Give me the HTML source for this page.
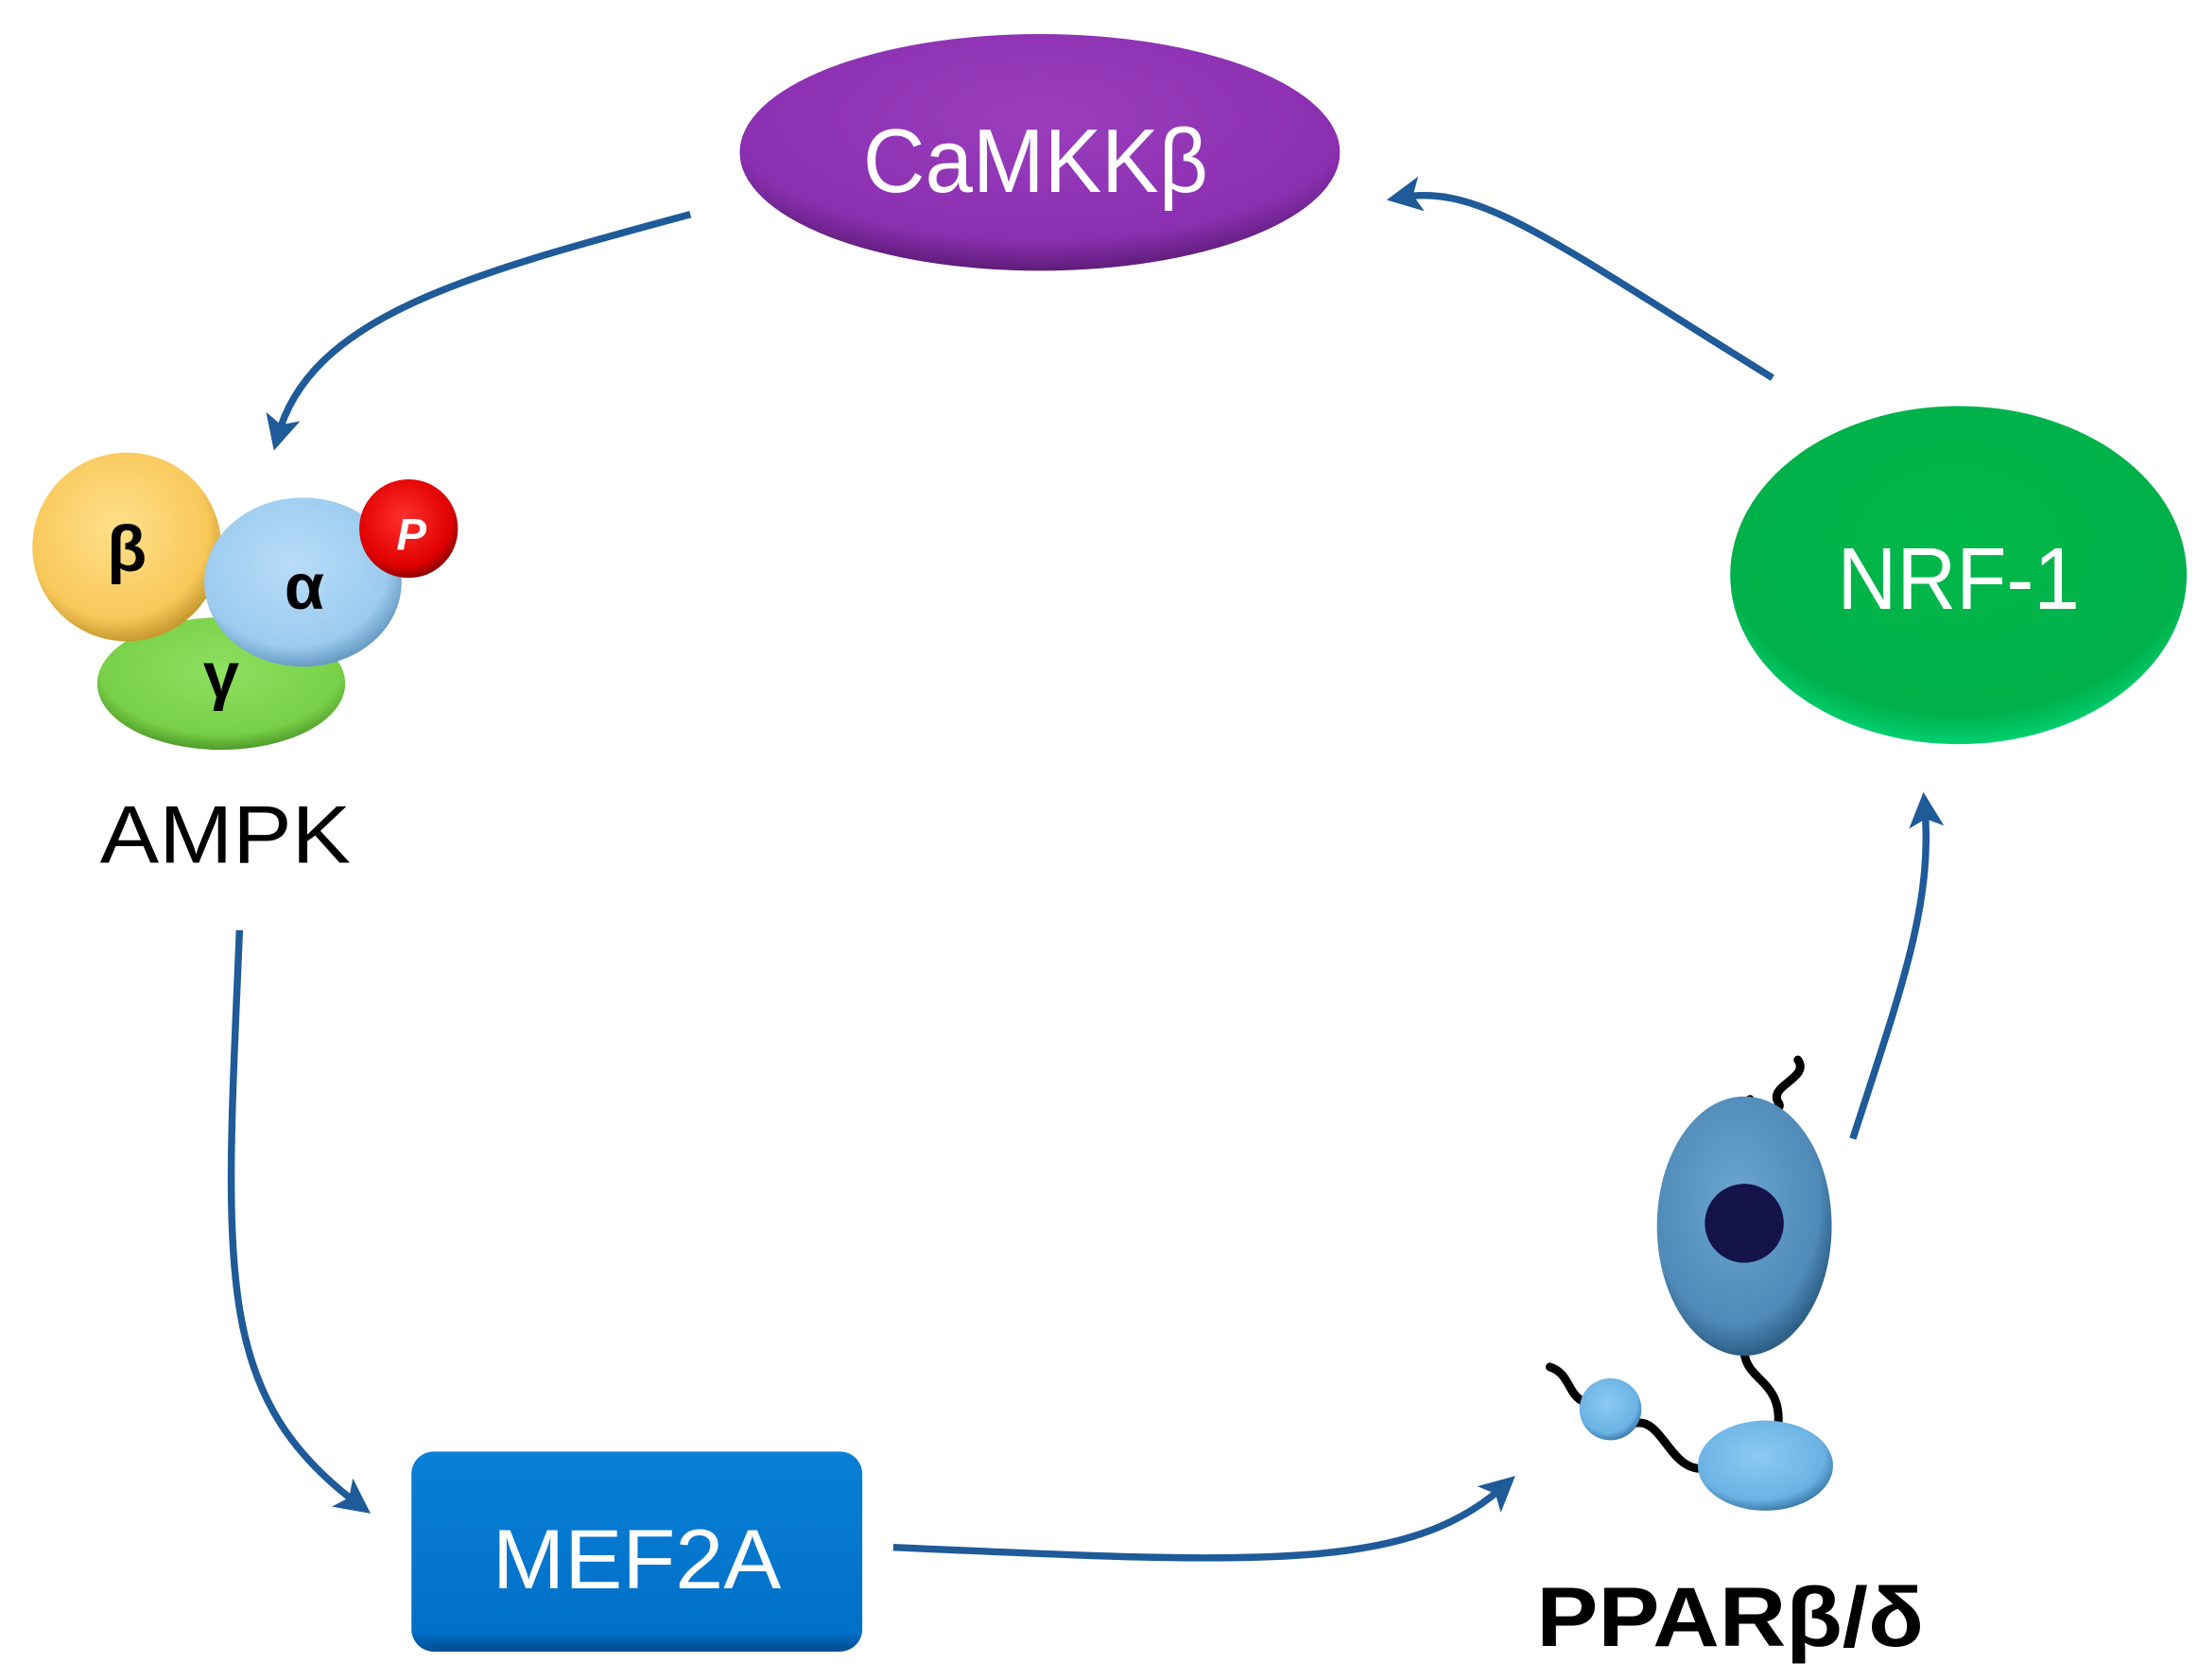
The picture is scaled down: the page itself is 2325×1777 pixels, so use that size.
<!DOCTYPE html>
<html><head><style>html,body{margin:0;padding:0;background:#fff}svg{display:block}</style></head>
<body>
<svg width="2325" height="1777" viewBox="0 0 1560 1192" xmlns="http://www.w3.org/2000/svg" font-family="Liberation Sans, sans-serif">
<defs>
<radialGradient id="pur" cx="50%" cy="35%" r="65%"><stop offset="0" stop-color="#9a3ebd"/><stop offset="0.8" stop-color="#8a2fb0"/><stop offset="1" stop-color="#5e1d7a"/></radialGradient>
<radialGradient id="grn" cx="50%" cy="40%" r="60%"><stop offset="0" stop-color="#00b84a"/><stop offset="0.85" stop-color="#00b04a"/><stop offset="1" stop-color="#00d070"/></radialGradient>
<radialGradient id="yel" cx="45%" cy="40%" r="60%"><stop offset="0" stop-color="#ffe08a"/><stop offset="0.8" stop-color="#f8c85a"/><stop offset="1" stop-color="#c89a30"/></radialGradient>
<radialGradient id="blu" cx="45%" cy="40%" r="60%"><stop offset="0" stop-color="#b8dcf8"/><stop offset="0.8" stop-color="#9ccbef"/><stop offset="1" stop-color="#6a9cc4"/></radialGradient>
<radialGradient id="gr2" cx="50%" cy="40%" r="60%"><stop offset="0" stop-color="#8ee060"/><stop offset="0.8" stop-color="#78d048"/><stop offset="1" stop-color="#4e9a2a"/></radialGradient>
<radialGradient id="red" cx="45%" cy="40%" r="60%"><stop offset="0" stop-color="#ff3030"/><stop offset="0.8" stop-color="#e00000"/><stop offset="1" stop-color="#900000"/></radialGradient>
<radialGradient id="ppar" cx="45%" cy="40%" r="60%"><stop offset="0" stop-color="#6aa6d0"/><stop offset="0.8" stop-color="#4f8ab8"/><stop offset="1" stop-color="#2d5f86"/></radialGradient>
<radialGradient id="lb" cx="45%" cy="40%" r="60%"><stop offset="0" stop-color="#8ccaf2"/><stop offset="0.8" stop-color="#6bb2e4"/><stop offset="1" stop-color="#3f7fae"/></radialGradient>
<linearGradient id="mef" x1="0" y1="0" x2="0" y2="1"><stop offset="0" stop-color="#0a7fd6"/><stop offset="0.9" stop-color="#0070c8"/><stop offset="1" stop-color="#004e90"/></linearGradient>
<marker id="ah" markerWidth="5" markerHeight="5" refX="3" refY="2.5" orient="auto" markerUnits="strokeWidth"><path d="M0,0 L5,2.5 L0,5 L1.2,2.5 Z" fill="#1f5a99"/></marker>
</defs>
<g fill="none" stroke="#1f5a99" stroke-width="5" marker-end="url(#ah)">
<path d="M490,152 C330,195 220,225 197,310"/>
<path d="M170,660 C160,900 150,990 255,1068"/>
<path d="M634,1098 C900,1110 1000,1115 1068,1054"/>
<path d="M1315,808 C1350,700 1372,640 1366,572"/>
<path d="M1258,268 C1100,170 1050,130 994,140"/>
</g>
<ellipse cx="738" cy="108" rx="213" ry="84" fill="url(#pur)"/>
<text x="735" y="136" font-size="64" fill="#fff" text-anchor="middle" textLength="245" lengthAdjust="spacingAndGlyphs">CaMKKβ</text>
<ellipse cx="1390" cy="408" rx="162" ry="120" fill="url(#grn)"/>
<text x="1390" y="432" font-size="62" fill="#fff" text-anchor="middle" textLength="172" lengthAdjust="spacingAndGlyphs">NRF-1</text>
<ellipse cx="157" cy="485" rx="88" ry="47" fill="url(#gr2)"/>
<circle cx="90" cy="388" r="67" fill="url(#yel)"/>
<ellipse cx="215" cy="413" rx="70" ry="60" fill="url(#blu)"/>
<circle cx="290" cy="375" r="35" fill="url(#red)"/>
<text x="90" y="405" font-size="46" font-weight="bold" text-anchor="middle">β</text>
<text x="216" y="432" font-size="46" font-weight="bold" text-anchor="middle">α</text>
<text x="157" y="495" font-size="46" font-weight="bold" text-anchor="middle">γ</text>
<text x="292" y="390" font-size="32" font-weight="bold" font-style="italic" fill="#fff" text-anchor="middle">P</text>
<text x="160" y="612" font-size="58" text-anchor="middle" textLength="178" lengthAdjust="spacingAndGlyphs">AMPK</text>
<rect x="292" y="1030" width="320" height="142" rx="16" fill="url(#mef)"/>
<text x="452" y="1127" font-size="60" fill="#fff" text-anchor="middle" textLength="205" lengthAdjust="spacingAndGlyphs">MEF2A</text>
<g fill="none" stroke="#000" stroke-width="6" stroke-linecap="round">
<path d="M1276,752 C1285,765 1255,770 1262,782 C1268,790 1245,790 1242,780"/>
<path d="M1238,960 C1240,980 1265,980 1262,1012"/>
<path d="M1100,970 C1115,975 1112,990 1125,995"/>
<path d="M1160,1010 C1180,1005 1185,1045 1210,1042"/>
</g>
<ellipse cx="1238" cy="870" rx="62" ry="92" fill="url(#ppar)"/>
<circle cx="1238" cy="868" r="28" fill="#14144a"/>
<ellipse cx="1253" cy="1040" rx="48" ry="32" fill="url(#lb)"/>
<circle cx="1143" cy="1000" r="22" fill="url(#lb)"/>
<text x="1228" y="1168" font-size="60" font-weight="bold" text-anchor="middle" textLength="275" lengthAdjust="spacingAndGlyphs">PPARβ/δ</text>
</svg>
</body></html>
